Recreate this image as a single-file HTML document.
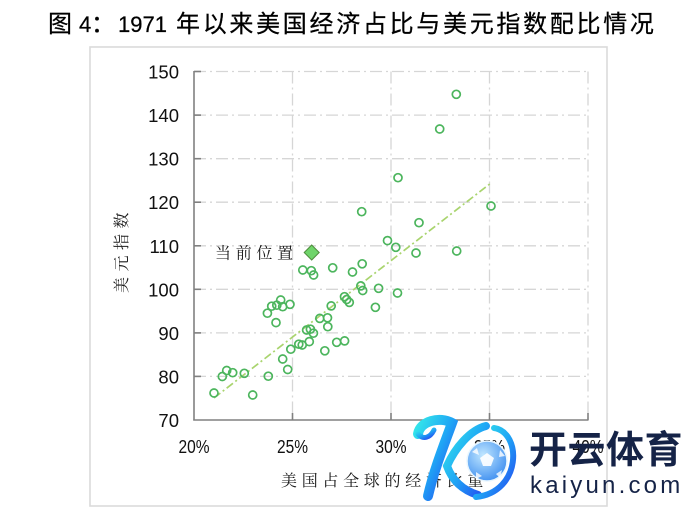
<!DOCTYPE html>
<html>
<head>
<meta charset="utf-8">
<style>
  html, body { margin: 0; padding: 0; background: #ffffff; }
  body { width: 700px; height: 518px; overflow: hidden; position: relative; }
  svg { position: absolute; left: 0; top: 0; }
</style>
</head>
<body>
<svg width="700" height="518" viewBox="0 0 700 518" xmlns="http://www.w3.org/2000/svg">
  <defs>
    <linearGradient id="kg" x1="0" y1="0" x2="1" y2="1">
      <stop offset="0" stop-color="#33e6ea"/>
      <stop offset="0.5" stop-color="#1fa6f5"/>
      <stop offset="1" stop-color="#2448f0"/>
    </linearGradient>
    <radialGradient id="ball" cx="0.4" cy="0.35" r="0.7">
      <stop offset="0" stop-color="#bfe6ff"/>
      <stop offset="1" stop-color="#3f8ff0"/>
    </radialGradient>
  </defs>

  <g font-family="'Liberation Sans','Noto Sans CJK SC',sans-serif" fill="#000" stroke="#000" stroke-width="0.25" font-size="24">
    <text x="48" y="32">图</text>
    <text x="79" y="32" font-size="22">4</text>
    <text x="91" y="32">：</text>
    <text x="118" y="32" font-size="22">1971</text>
    <text x="176" y="32" letter-spacing="2.7">年以来美国经济占比与美元指数配比情况</text>
  </g>

  <rect x="90" y="47" width="517" height="459" fill="none" stroke="#dadada" stroke-width="1.6"/>

  <g stroke="#d6d6d6" stroke-width="1.3" stroke-dasharray="12 4 2 4" fill="none">
    <line x1="194" y1="71.5" x2="588" y2="71.5"/>
    <line x1="194" y1="115.1" x2="588" y2="115.1"/>
    <line x1="194" y1="158.7" x2="588" y2="158.7"/>
    <line x1="194" y1="202.2" x2="588" y2="202.2"/>
    <line x1="194" y1="245.8" x2="588" y2="245.8"/>
    <line x1="194" y1="289.3" x2="588" y2="289.3"/>
    <line x1="194" y1="332.9" x2="588" y2="332.9"/>
    <line x1="194" y1="376.4" x2="588" y2="376.4"/>
    <line x1="292.5" y1="71.5" x2="292.5" y2="420"/>
    <line x1="391" y1="71.5" x2="391" y2="420"/>
    <line x1="489.5" y1="71.5" x2="489.5" y2="420"/>
    <line x1="588" y1="71.5" x2="588" y2="420"/>
  </g>

  <g stroke="#808080" stroke-width="1.6" fill="none">
    <line x1="194" y1="71" x2="194" y2="420.5"/>
    <line x1="193.3" y1="420" x2="588.5" y2="420"/>
    <line x1="194" y1="71.5" x2="201" y2="71.5"/>
    <line x1="194" y1="115.1" x2="201" y2="115.1"/>
    <line x1="194" y1="158.7" x2="201" y2="158.7"/>
    <line x1="194" y1="202.2" x2="201" y2="202.2"/>
    <line x1="194" y1="245.8" x2="201" y2="245.8"/>
    <line x1="194" y1="289.3" x2="201" y2="289.3"/>
    <line x1="194" y1="332.9" x2="201" y2="332.9"/>
    <line x1="194" y1="376.4" x2="201" y2="376.4"/>
    <line x1="292.5" y1="420" x2="292.5" y2="413"/>
    <line x1="391" y1="420" x2="391" y2="413"/>
    <line x1="489.5" y1="420" x2="489.5" y2="413"/>
    <line x1="588" y1="420" x2="588" y2="413"/>
  </g>

  <g font-family="'Liberation Sans',sans-serif" font-size="18.5" fill="#111" text-anchor="end">
    <text x="179" y="78.5">150</text>
    <text x="179" y="122.1">140</text>
    <text x="179" y="165.7">130</text>
    <text x="179" y="209.2">120</text>
    <text x="179" y="252.8">110</text>
    <text x="179" y="296.3">100</text>
    <text x="179" y="339.9">90</text>
    <text x="179" y="383.4">80</text>
    <text x="179" y="427">70</text>
  </g>

  <g font-family="'Liberation Sans',sans-serif" font-size="18" fill="#111" text-anchor="middle">
    <text x="194" y="453" textLength="31" lengthAdjust="spacingAndGlyphs">20%</text>
    <text x="292.5" y="453" textLength="31" lengthAdjust="spacingAndGlyphs">25%</text>
    <text x="391" y="453" textLength="31" lengthAdjust="spacingAndGlyphs">30%</text>
    <text x="489.5" y="453" textLength="31" lengthAdjust="spacingAndGlyphs">35%</text>
    <text x="588" y="453" textLength="31" lengthAdjust="spacingAndGlyphs">40%</text>
  </g>

  <g font-family="'Liberation Serif','Noto Serif CJK SC',serif" fill="#1a1a1a" font-size="16">
    <text x="281" y="486" letter-spacing="4.7">美国占全球的经济比重</text>
    <text transform="translate(127,293) rotate(-90)" x="0" y="0" letter-spacing="5.5">美元指数</text>
    <text x="215" y="258.5" letter-spacing="4.7">当前位置</text>
  </g>

  <line x1="214" y1="398" x2="491" y2="183" stroke="#a9d46e" stroke-width="1.7" stroke-dasharray="8 3 2 3"/>

  <g fill="none" stroke="#4cb55d" stroke-width="1.7">
    <circle cx="214" cy="393" r="4"/>
    <circle cx="222.3" cy="376.5" r="4"/>
    <circle cx="226.7" cy="370.5" r="4"/>
    <circle cx="232.7" cy="372.7" r="4"/>
    <circle cx="244.3" cy="373.3" r="4"/>
    <circle cx="252.7" cy="395" r="4"/>
    <circle cx="268.3" cy="376.2" r="4"/>
    <circle cx="267.4" cy="313.2" r="4"/>
    <circle cx="271.7" cy="306.2" r="4"/>
    <circle cx="276.8" cy="305.2" r="4"/>
    <circle cx="280.7" cy="300" r="4"/>
    <circle cx="282.7" cy="306.7" r="4"/>
    <circle cx="290" cy="304.3" r="4"/>
    <circle cx="276" cy="322.6" r="4"/>
    <circle cx="282.7" cy="359" r="4"/>
    <circle cx="287.7" cy="369.5" r="4"/>
    <circle cx="290.8" cy="349.2" r="4"/>
    <circle cx="298.8" cy="344.2" r="4"/>
    <circle cx="302.2" cy="345" r="4"/>
    <circle cx="306.6" cy="330" r="4"/>
    <circle cx="310.4" cy="329.2" r="4"/>
    <circle cx="313.4" cy="333.2" r="4"/>
    <circle cx="309.3" cy="341.6" r="4"/>
    <circle cx="302.8" cy="270" r="4"/>
    <circle cx="311.3" cy="270.7" r="4"/>
    <circle cx="313.6" cy="275" r="4"/>
    <circle cx="319.8" cy="318.4" r="4"/>
    <circle cx="327.5" cy="317.8" r="4"/>
    <circle cx="327.8" cy="326.7" r="4"/>
    <circle cx="324.8" cy="350.8" r="4"/>
    <circle cx="331.2" cy="305.9" r="4"/>
    <circle cx="332.7" cy="267.8" r="4"/>
    <circle cx="336.7" cy="342.3" r="4"/>
    <circle cx="344.6" cy="340.9" r="4"/>
    <circle cx="344.5" cy="296.7" r="4"/>
    <circle cx="346.7" cy="299.5" r="4"/>
    <circle cx="349.3" cy="302.4" r="4"/>
    <circle cx="352.5" cy="272" r="4"/>
    <circle cx="362.2" cy="263.8" r="4"/>
    <circle cx="360.8" cy="285.9" r="4"/>
    <circle cx="362.7" cy="290.5" r="4"/>
    <circle cx="378.6" cy="288.3" r="4"/>
    <circle cx="397.5" cy="293" r="4"/>
    <circle cx="375.4" cy="307.3" r="4"/>
    <circle cx="387.5" cy="240.6" r="4"/>
    <circle cx="395.8" cy="247.3" r="4"/>
    <circle cx="416" cy="253" r="4"/>
    <circle cx="456.7" cy="251" r="4"/>
    <circle cx="419" cy="222.7" r="4"/>
    <circle cx="361.7" cy="211.7" r="4"/>
    <circle cx="398" cy="177.7" r="4"/>
    <circle cx="439.7" cy="129" r="4"/>
    <circle cx="456.3" cy="94.3" r="4"/>
    <circle cx="491" cy="206" r="4"/>
  </g>

  <polygon points="311.7,245 319.2,252.5 311.7,260 304.2,252.5" fill="#6fd46a" stroke="#4e8c3c" stroke-width="1"/>

  <g>
    <path d="M 418 434 C 420 421, 440 416, 452 423 C 444 445, 434 470, 428 496" fill="none" stroke="url(#kg)" stroke-width="10" stroke-linecap="round"/>
    <path d="M 418 434 C 423 440, 430 438, 434 430" fill="none" stroke="url(#kg)" stroke-width="5" stroke-linecap="round"/>
    <path d="M 486 426 C 470 430, 455 448, 447 466 C 452 480, 462 490, 478 495" fill="none" stroke="url(#kg)" stroke-width="8" stroke-linecap="round"/>
    <path d="M 494 428 C 522 432, 522 492, 476 497" fill="none" stroke="url(#kg)" stroke-width="6" stroke-linecap="round"/>
    <circle cx="487" cy="461" r="20" fill="url(#ball)" stroke="#e8f6ff" stroke-width="1.5"/>
    <polygon points="487,453 494,458 491,466 483,466 480,458" fill="#ffffff" opacity="0.9"/>
    <polygon points="472,452 477,448 479,455" fill="#ffffff" opacity="0.8"/>
    <polygon points="500,450 505,456 499,457" fill="#ffffff" opacity="0.8"/>
    <polygon points="476,472 482,476 476,479" fill="#ffffff" opacity="0.8"/>
    <polygon points="496,474 502,470 500,478" fill="#ffffff" opacity="0.8"/>
    <text x="529" y="463" font-family="'Noto Sans CJK SC',sans-serif" font-size="38" font-weight="bold" fill="#152347" letter-spacing="0.5">开云体育</text>
    <text x="530" y="493" font-family="'Liberation Sans',sans-serif" font-size="24" fill="#152347" letter-spacing="3.2">kaiyun.com</text>
  </g>
</svg>
</body>
</html>
